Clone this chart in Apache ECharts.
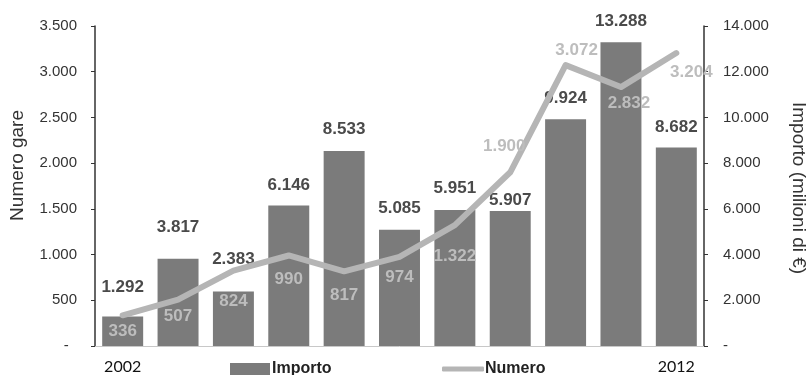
<!DOCTYPE html>
<html>
<head>
<meta charset="utf-8">
<script src="https://cdn.jsdelivr.net/npm/echarts@6/dist/echarts.min.js"></script>
<style>
html,body{margin:0;padding:0;background:#fff;}
#chart{width:809px;height:375px;}
</style>
</head>
<body>
<div id="chart"></div>
<script>
// anni
var years = ['2002','2003','2004','2005','2006','2007','2008','2009','2010','2011','2012'];
// importo (milioni di euro) - asse destro
var importo = [1292, 3817, 2383, 6146, 8533, 5085, 5951, 5907, 9924, 13288, 8682];
// numero gare - asse sinistro
var numero = [336, 507, 824, 990, 817, 974, 1322, 1900, 3072, 2832, 3204];

// distanza etichette barre
var barLabelDist = [21, 23, 24, 12, 13, 13, 13, 2, 12, 12, 12];
// posizione etichette linea
var lineLabelPos = ['bottom','bottom','bottom','bottom','bottom','bottom','bottom','top','top','bottom','bottom'];
var lineLabelOff = [[0,2],[0,2],[0,16],[0,9],[0,10],[0,6],[0,17],[-6,-11],[11,0],[8,2],[15,5]];

function fmt(v){
	if(v === 0) return '-  ';
	return String(v).replace(/\B(?=(\d{3})+(?!\d))/g, '.');
}

var FONT = 'Liberation Sans, Arial, sans-serif';

var myChart = echarts.init(document.getElementById('chart'));
var option = {
	animation: false,
	backgroundColor: '#fff',
	grid: { left: 95, right: 105, top: 26, bottom: 27 },
	legend: [
		{
			data: ['Importo'],
			left: 225, top: 356,
			itemWidth: 40, itemHeight: 12, icon: 'rect',
			textStyle: { fontFamily: FONT, fontSize: 16, fontWeight: 'bold', color: '#222', padding: [0,0,0,-3] }
		},
		{
			data: ['Numero'],
			left: 437, top: 356,
			itemWidth: 42, itemHeight: 5, icon: 'roundRect',
			textStyle: { fontFamily: FONT, fontSize: 16, fontWeight: 'bold', color: '#222', padding: [0,0,0,-4] }
		}
	],
	graphic: [
		{
			type: 'text', left: 8, top: 110, rotation: Math.PI / 2,
			style: { text: 'Numero gare', font: '19px ' + FONT, fill: '#333' }
		},
		{
			type: 'text', right: 1, top: 102, rotation: -Math.PI / 2,
			style: { text: 'Importo (milioni di €)', font: '19px ' + FONT, fill: '#333' }
		}
	],
	xAxis: {
		type: 'category',
		data: years,
		axisLine: { lineStyle: { color: '#c8c8c8', width: 1 } },
		axisTick: { show: false },
		axisLabel: {
			interval: function(index){ return index === 0 || index === years.length - 1; },
			margin: 13,
			fontFamily: 'Lato, Carlito, sans-serif',
			fontSize: 16,
			color: '#111'
		}
	},
	yAxis: [
		{
			type: 'value', min: 0, max: 3500, interval: 500,
			splitLine: { show: false },
			axisLine: { show: true, lineStyle: { color: '#333', width: 1.5 } },
			axisTick: { show: true, length: 4, lineStyle: { color: '#333' } },
			axisLabel: { formatter: fmt, margin: 18, fontFamily: FONT, fontSize: 15, color: '#333' }
		},
		{
			type: 'value', min: 0, max: 14000, interval: 2000,
			splitLine: { show: false },
			axisLine: { show: true, lineStyle: { color: '#333', width: 1.5 } },
			axisTick: { show: true, length: 4, lineStyle: { color: '#333' } },
			axisLabel: {
				formatter: function(v){ return v === 0 ? '-' : fmt(v); },
				margin: 19, fontFamily: FONT, fontSize: 15, color: '#333'
			}
		}
	],
	series: [
		{
			name: 'Importo',
			type: 'bar',
			yAxisIndex: 1,
			barCategoryGap: '26%',
			itemStyle: { color: '#7b7b7b' },
			label: {
				show: true, position: 'top',
				formatter: function(p){ return fmt(p.value); },
				fontFamily: FONT, fontSize: 17, fontWeight: 'bold', color: '#4a4a4a'
			},
			data: importo.map(function(v, i){
				return { value: v, label: { distance: barLabelDist[i] } };
			}),
			z: 2
		},
		{
			name: 'Numero',
			type: 'line',
			yAxisIndex: 0,
			symbol: 'circle',
			symbolSize: 2,
			itemStyle: { color: '#b5b5b5' },
			lineStyle: { color: '#b5b5b5', width: 6, cap: 'round', join: 'round' },
			label: {
				show: true,
				formatter: function(p){ return fmt(p.value); },
				fontFamily: FONT, fontSize: 17, fontWeight: 'bold', color: '#bdbdbd'
			},
			data: numero.map(function(v, i){
				return { value: v, label: { position: lineLabelPos[i], offset: lineLabelOff[i] } };
			}),
			z: 3
		}
	]
};
myChart.setOption(option);
</script>
</body>
</html>
